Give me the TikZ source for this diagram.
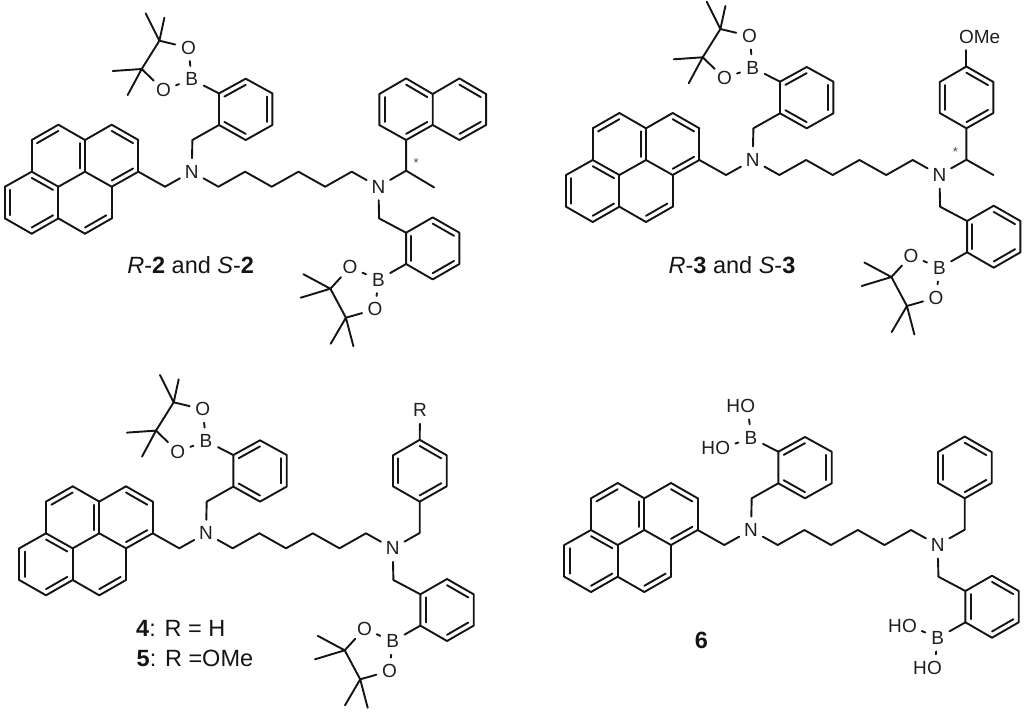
\documentclass[tikz,border=0pt]{standalone}
\usepackage{fontspec}
\setmainfont{Liberation Sans}
\usetikzlibrary{calc}
\usetikzlibrary{positioning}

% everything that the four molecules share: pyrene, both amines, hexyl chain, two benzyls with B
\newcommand{\core}{
  % pyrene
  \foreach \n/\px/\py in {a1/-160/-31.7, a2/-133.3/-47, a3/-106.7/-31.7, a4/-106.7/0, a5/-133.3/15, a6/-160/0,
      b1/-80/-47, b2/-53.3/-31.7, b3/-53.3/0, b4/-80/15,
      c1/-133.3/46.7, c2/-160/62, c3/-186.7/46.7, c4/-186.7/15,
      d1/-80/46.7, d2/-106.7/62,
      ra/-133.3/-16, rb/-80/-16, rc/-160/31, rd/-106.7/31}
    \coordinate (\n) at (\px,\py);
  \foreach \p/\q in {a1/a2, a2/a3, a3/a4, a4/a5, a5/a6, a6/a1, a3/b1, b1/b2, b2/b3, b3/b4, b4/a4,
      a5/c1, c1/c2, c2/c3, c3/c4, c4/a6, b4/d1, d1/d2, d2/c1}
    \draw[bond] (\p) -- (\q);
  \foreach \p/\q/\r in {a1/a2/ra, a3/a4/ra, b1/b2/rb, b3/b4/rb, a6/a5/rc, c4/c3/rc, c1/c2/rc, d1/d2/rd}
    \draw[bond] ($(\p)!.2!(\r)$) -- ($(\q)!.2!(\r)$);
  % amines and hexyl chain
  \node[atom] (N1) at (0,0) {N};
  \node[atom] (N2) at (186.7,15) {N};
  \coordinate (m1) at (-26.7,15);
  \foreach \n/\px/\py in {h1/26.7/15, h2/53.4/0, h3/80/15, h4/106.8/0, h5/133.5/15, h6/160/0}
    \coordinate (\n) at (\px,\py);
  \draw[bond] (b3) -- (m1) -- (N1) -- (h1) -- (h2) -- (h3) -- (h4) -- (h5) -- (h6) -- (N2);
  % upper benzyl
  \foreach \n/\px/\py in {u0/0.7/-31.7, u1/27.3/-46.7, u2/27.3/-78.3, u3/54/-93, u4/80.7/-78.3, u5/80.7/-46.7, u6/54/-31.7, ru/54/-62.3}
    \coordinate (\n) at (\px,\py);
  \node[atom] (B1) at (0,-92.3) {B};
  \node[atom] (O1) at (-3.3,-124) {O};
  \node[atom] (O2) at (-28.3,-81.7) {O};
  \draw[bond] (N1) -- (u0) -- (u1) -- (u2) -- (u3) -- (u4) -- (u5) -- (u6) -- (u1);
  \draw[bond] (u2) -- (B1);
  \draw[bond] (B1) -- (O1);
  \draw[bond] (B1) -- (O2);
  \foreach \p/\q in {u2/u3, u4/u5, u6/u1}
    \draw[bond] ($(\p)!.2!(ru)$) -- ($(\q)!.2!(ru)$);
  % lower benzyl
  \foreach \n/\px/\py in {l0/0.7/31.7, l1/27.7/46, l2/27.7/77.3, l3/54.3/92.7, l4/81/77.3, l5/81/46, l6/54.3/30.7, rl/54.3/61.7}
    \coordinate (\n) at ($(N2)+(\px,\py)$);
  \node[atom] (B2) at ($(N2)+(0,93)$) {B};
  \node[atom] (O3) at ($(N2)+(-28.3,80.5)$) {O};
  \node[atom] (O4) at ($(N2)+(-3.3,122.7)$) {O};
  \draw[bond] (N2) -- (l0) -- (l1) -- (l2) -- (l3) -- (l4) -- (l5) -- (l6) -- (l1);
  \draw[bond] (l2) -- (B2);
  \draw[bond] (B2) -- (O3);
  \draw[bond] (B2) -- (O4);
  \foreach \p/\q in {l1/l2, l6/l5, l4/l3}
    \draw[bond] ($(\p)!.2!(rl)$) -- ($(\q)!.2!(rl)$);
}

% pinacol carbons on both boron atoms
\newcommand{\pinacol}{
  \foreach \n/\px/\py in {q1/-32.3/-131, q2/-50/-102.7, t1/-46/-158.3, t2/-27.3/-154, t3/-79/-100.7, t4/-64/-76.7}
    \coordinate (\n) at (\px,\py);
  \draw[bond] (O1) -- (q1) -- (q2) -- (O2);
  \draw[bond] (t1) -- (q1) -- (t2);
  \draw[bond] (t3) -- (q2) -- (t4);
  \foreach \n/\px/\py in {q3/-48/102, q4/-32.5/131, t5/-75/87.5, t6/-77.7/111, t7/-47.7/157, t8/-25/159.5}
    \coordinate (\n) at ($(N2)+(\px,\py)$);
  \draw[bond] (O3) -- (q3) -- (q4) -- (O4);
  \draw[bond] (t5) -- (q3) -- (t6);
  \draw[bond] (t7) -- (q4) -- (t8);
}

% para ring above the second amine
\newcommand{\topring}[1]{
  \foreach \n/\px/\py in {s0/27/-15.3, s1/27/-46.7, s2/0.3/-62, s3/0.3/-93, s4/27/-108.5, s5/54/-93, s6/54/-62, rs/27/-77.5}
    \coordinate (\n) at ($(N2)+(\px,\py)$);
  \draw[bond] (N2) -- (s0) -- (s1) -- (s2) -- (s3) -- (s4) -- (s5) -- (s6) -- (s1);
  \foreach \p/\q in {s1/s6, s2/s3, s4/s5}
    \draw[bond] ($(\p)!.2!(rs)$) -- ($(\q)!.2!(rs)$);
}

\begin{document}
\begin{tikzpicture}[
    x=1pt, y=-1pt,
    bond/.style={
      line width=1.9pt,
      line cap=round,
      line join=round,
      black!92
    },
    atom/.style={
      circle,
      minimum size=27pt,
      inner sep=0pt,
      outer sep=0pt,
      text=black!88,
      font=\fontsize{19}{22}\selectfont
    },
    atomtail/.style={
      inner sep=0pt,
      outer sep=0pt,
      text=black!88,
      font=\fontsize{19}{22}\selectfont
    },
    star/.style={
      inner sep=0pt,
      text=black!70,
      font=\fontsize{13}{15}\selectfont
    },
    caption/.style={
      anchor=base,
      inner sep=0pt,
      text=black!92,
      font=\fontsize{23.5}{28}\selectfont
    }
  ]
  \useasboundingbox (0,0) rectangle (1024,713);

  % R-2 and S-2
  \begin{scope}[shift={(191.7,171.7)}, name prefix=mb-]
    \core
    \pinacol
    \node[atom] (dummyb) at (0,0) {};
    \foreach \n/\px/\py in {e0/27.7/-16, e1/55.7/0.7, n1/27.7/-46.7, n2/0.9/-61.7, n3/0.9/-92.7, n4/27.7/-108.3, n5/54.3/-92.7, n6/54.3/-61.7,
        n7/81/-108.3, n8/107.7/-92.7, n9/107.7/-61.7, n10/81/-46.7, rn/27.7/-77.2, rm/81/-77.2}
      \coordinate (\n) at ($(N2)+(\px,\py)$);
    \draw[bond] (N2) -- (e0) -- (e1);
    \draw[bond] (e0) -- (n1) -- (n2) -- (n3) -- (n4) -- (n5) -- (n6) -- (n1);
    \draw[bond] (n5) -- (n7) -- (n8) -- (n9) -- (n10) -- (n6);
    \foreach \p/\q/\r in {n1/n6/rn, n2/n3/rn, n4/n5/rn, n7/n8/rm, n9/n10/rm}
      \draw[bond] ($(\p)!.2!(\r)$) -- ($(\q)!.2!(\r)$);
    \node[star] (starb) at ($(N2)+(37.7,-24)$) {*};
  \end{scope}
  \node[caption] (capb) at (190.7,273) {\textit{R}-\textbf{2} and \textit{S}-\textbf{2}};

  % R-3 and S-3
  \begin{scope}[shift={(752.7,160)}, name prefix=mc-]
    \core
    \pinacol
    \topring{}
    \coordinate (e1) at ($(N2)+(54,0)$);
    \draw[bond] (s0) -- (e1);
    \node[atom] (O5) at ($(N2)+(27,-138.3)$) {O};
    \node[atomtail, base right=-6pt of O5] (me) {Me};
    \draw[bond] (s4) -- (O5);
    \node[star] (starc) at ($(N2)+(16,-23)$) {*};
  \end{scope}
  \node[caption] (capc) at (732,273) {\textit{R}-\textbf{3} and \textit{S}-\textbf{3}};

  % 4 and 5
  \begin{scope}[shift={(206,533.3)}, name prefix=md-]
    \core
    \pinacol
    \topring{}
    \node[atom] (R) at ($(N2)+(27.3,-138)$) {R};
    \draw[bond] (s4) -- (R);
  \end{scope}
  \node[caption, anchor=base west] (capd) at (136,636) {\textbf{4}: R = H};
  \node[caption, anchor=base west] (cape) at (136.5,666) {\textbf{5}: R =OMe};

  % 6
  \begin{scope}[shift={(751,530)}, name prefix=mf-]
    \core
    \topring{}
    \node[atomtail, base left=-6pt of O1] (h1o) {H};
    \node[atomtail, base left=-6pt of O2] (h2o) {H};
    \node[atomtail, base left=-6pt of O3] (h3o) {H};
    \node[atomtail, base left=-6pt of O4] (h4o) {H};
  \end{scope}
  \node[caption] (capf) at (701.5,648) {\textbf{6}};
\end{tikzpicture}
\end{document}
